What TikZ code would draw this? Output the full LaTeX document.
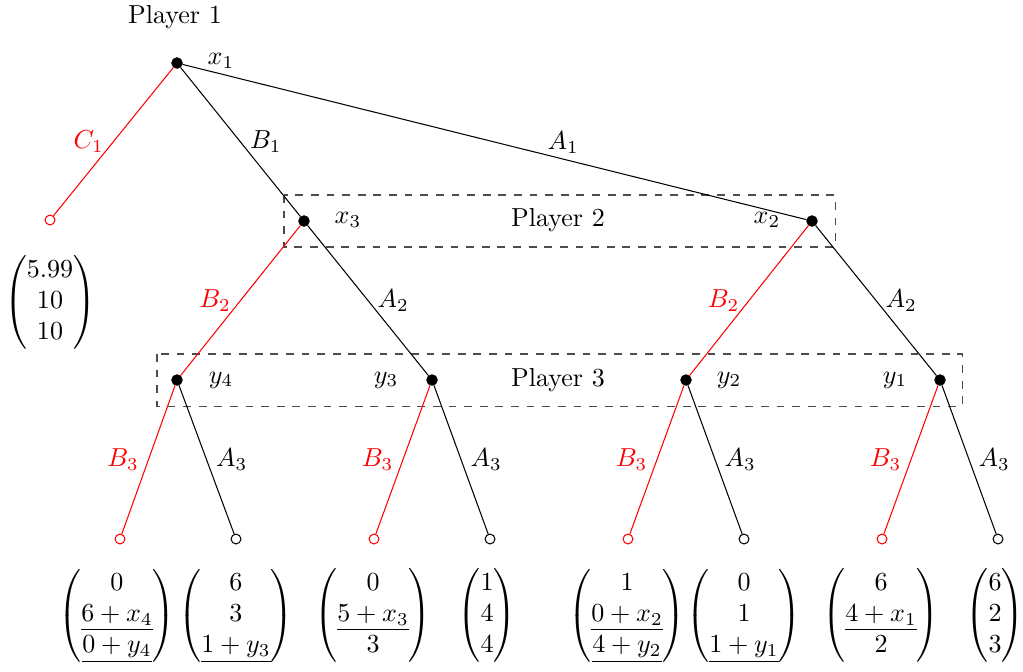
\documentclass[tikz,border=0pt]{standalone}
\usepackage{amsmath}
\begin{document}
\begin{tikzpicture}[
  x=0.0135cm, y=-0.0135cm,
  dec/.style={draw, fill, circle, minimum size=4pt, inner sep=0pt},
  lf/.style={draw, fill=white, circle, minimum size=3.8pt, inner sep=0pt},
  rlf/.style={lf, draw=red},
  pay/.style={anchor=north, inner sep=0pt},
  info/.style={draw=black!70, dashed},
  lbl/.style={inner sep=3.5pt}
]
\useasboundingbox (0,0) rectangle (1023,671);
% ---------------- information sets ----------------
\draw[info] (284,195) rectangle (835,247);
\draw[info] (157,354) rectangle (962,406);
% ---------------- decision nodes ----------------
\node[dec] (x1) at (177,63) {};
\node[dec] (x3) at (304,221) {};
\node[dec] (x2) at (812,221) {};
\node[dec] (y4) at (177,380) {};
\node[dec] (y3) at (432,380) {};
\node[dec] (y2) at (686,380) {};
\node[dec] (y1) at (940,380) {};
% ---------------- leaves ----------------
\node[rlf] (c) at (50,220) {};
\node[rlf] (l1) at (120,539) {};
\node[lf] (l2) at (236,539) {};
\node[rlf] (l3) at (374,539) {};
\node[lf] (l4) at (490,539) {};
\node[rlf] (l5) at (628,539) {};
\node[lf] (l6) at (744,539) {};
\node[rlf] (l7) at (882,539) {};
\node[lf] (l8) at (998,539) {};
% ---------------- moves ----------------
\draw[red] (x1) -- node[lbl, left] {$C_1$} (c);
\draw (x1) -- node[lbl, right] {$B_1$} (x3);
\draw (x1) -- node[lbl, above, pos=0.61, inner sep=2pt] {$A_1$} (x2);
\draw[red] (x3) -- node[lbl, left] {$B_2$} (y4);
\draw (x3) -- node[lbl, right] {$A_2$} (y3);
\draw[red] (x2) -- node[lbl, left] {$B_2$} (y2);
\draw (x2) -- node[lbl, right] {$A_2$} (y1);
\draw[red] (y4) -- node[lbl, left] {$B_3$} (l1);
\draw (y4) -- node[lbl, right] {$A_3$} (l2);
\draw[red] (y3) -- node[lbl, left] {$B_3$} (l3);
\draw (y3) -- node[lbl, right] {$A_3$} (l4);
\draw[red] (y2) -- node[lbl, left] {$B_3$} (l5);
\draw (y2) -- node[lbl, right] {$A_3$} (l6);
\draw[red] (y1) -- node[lbl, left] {$B_3$} (l7);
\draw (y1) -- node[lbl, right] {$A_3$} (l8);
% ---------------- names ----------------
\node (p1) at (175,17) {Player 1};
\node (p2) at (558,220) {Player 2};
\node (p3) at (558,380) {Player 3};
\node (nx1) at (221,61) {$x_1$};
\node (nx3) at (348,220) {$x_3$};
\node (nx2) at (767,220) {$x_2$};
\node (ny4) at (221,380) {$y_4$};
\node (ny3) at (386,380) {$y_3$};
\node (ny2) at (729,380) {$y_2$};
\node (ny1) at (895,380) {$y_1$};
% ---------------- payoffs ----------------
\node[pay] (pc) at (50,255) {$\begin{pmatrix}5.99\\10\\10\end{pmatrix}$};
\node[pay] (p1a) at (117,568) {$\begin{pmatrix}0\\\underline{6+x_4}\\\underline{0+y_4}\end{pmatrix}$};
\node[pay] (p2a) at (236,568) {$\begin{pmatrix}6\\3\\\underline{1+y_3}\end{pmatrix}$};
\node[pay] (p3a) at (373,568) {$\begin{pmatrix}0\\\underline{5+x_3}\\3\end{pmatrix}$};
\node[pay] (p4a) at (487,568) {$\begin{pmatrix}1\\4\\4\end{pmatrix}$};
\node[pay] (p5a) at (627,568) {$\begin{pmatrix}1\\\underline{0+x_2}\\\underline{4+y_2}\end{pmatrix}$};
\node[pay] (p6a) at (744,568) {$\begin{pmatrix}0\\1\\\underline{1+y_1}\end{pmatrix}$};
\node[pay] (p7a) at (881,568) {$\begin{pmatrix}6\\\underline{4+x_1}\\2\end{pmatrix}$};
\node[pay] (p8a) at (995,568) {$\begin{pmatrix}6\\2\\3\end{pmatrix}$};
\end{tikzpicture}
\end{document}
